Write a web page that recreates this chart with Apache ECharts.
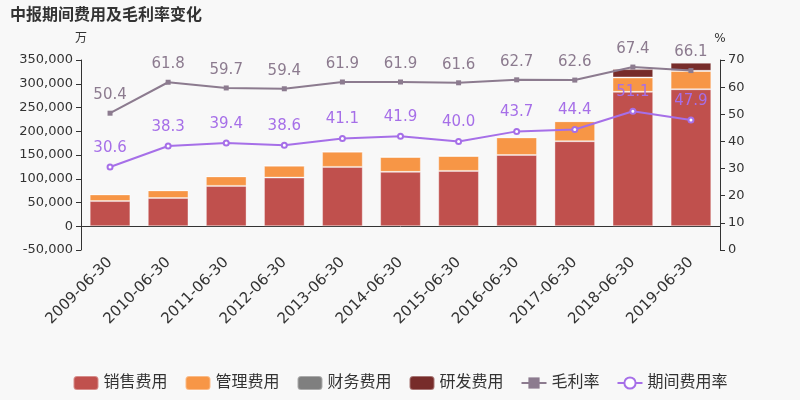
<!DOCTYPE html>
<html><head><meta charset="utf-8">
<script src="https://cdn.jsdelivr.net/npm/echarts@6/dist/echarts.min.js"></script>
<style>html,body{margin:0;padding:0;background:#f8f8f8}#c{width:800px;height:400px}</style>
</head><body><div id="c"></div>
<script>
const categories = ['2009-06-30','2010-06-30','2011-06-30','2012-06-30','2013-06-30','2014-06-30','2015-06-30','2016-06-30','2017-06-30','2018-06-30','2019-06-30'];
const sales = [53000, 59500, 85000, 102500, 125000, 114500, 116500, 150000, 179000, 283000, 288500];
const admin = [14000, 16000, 20000, 25000, 32000, 31500, 31500, 37000, 42000, 30000, 38500];
const finance = [300, 300, 300, 300, 300, 300, 300, 700, 500, 300, 300];
const rnd = [0, 0, 0, 0, 0, 0, 0, 0, 0, 17500, 17000];
const grossMargin = [50.4, 61.8, 59.7, 59.4, 61.9, 61.9, 61.6, 62.7, 62.6, 67.4, 66.1];
const expenseRate = [30.6, 38.3, 39.4, 38.6, 41.1, 41.9, 40.0, 43.7, 44.4, 51.1, 47.9];

const chart = echarts.init(document.getElementById('c'));
const barStyle = c => ({color: c, borderColor: 'rgba(255,255,255,0.35)', borderWidth: 1});
const fmt = p => Number(p.value).toFixed(1);
chart.setOption({
  backgroundColor: '#f8f8f8',
  textStyle: {fontFamily: '"DejaVu Sans", "Noto Sans CJK SC", sans-serif'},
  title: {text: '中报期间费用及毛利率变化', left: 5, top: 3,
    textStyle: {fontSize: 16, fontWeight: 'bold', color: '#333'}},
  legend: {bottom: 4, left: 'center', itemWidth: 25, itemHeight: 14, itemGap: 17,
    textStyle: {fontSize: 16, color: '#333'},
    data: ['销售费用','管理费用','财务费用','研发费用','毛利率','期间费用率']},
  grid: {left: 81, right: 80, top: 60, bottom: 150},
  xAxis: {type: 'category', data: categories,
    axisLine: {lineStyle: {color: '#333'}, onZero: true},
    axisTick: {alignWithLabel: false, lineStyle: {color: '#333'}},
    axisLabel: {rotate: 45, fontSize: 15, color: '#333', interval: 0, margin: 10}},
  yAxis: [
    {type: 'value', name: '万', min: -50000, max: 350000, interval: 50000,
      nameTextStyle: {color: '#333', fontSize: 12},
      axisLine: {show: true, lineStyle: {color: '#333'}}, axisTick: {show: true},
      axisLabel: {fontSize: 13, color: '#333'}, splitLine: {show: false}},
    {type: 'value', name: '%', min: 0, max: 70, interval: 10, position: 'right',
      nameTextStyle: {color: '#333', fontSize: 12},
      axisLine: {show: true, lineStyle: {color: '#333'}}, axisTick: {show: true},
      axisLabel: {fontSize: 13, color: '#333'}, splitLine: {show: false}}
  ],
  series: [
    {name: '销售费用', type: 'bar', stack: 'a', data: sales, barWidth: '70%', itemStyle: barStyle('#c0504d')},
    {name: '管理费用', type: 'bar', stack: 'a', data: admin, itemStyle: barStyle('#f79646')},
    {name: '财务费用', type: 'bar', stack: 'a', data: finance, itemStyle: barStyle('#7f7f7f')},
    {name: '研发费用', type: 'bar', stack: 'a', data: rnd, itemStyle: barStyle('#772c2a')},
    {name: '毛利率', type: 'line', yAxisIndex: 1, data: grossMargin, symbol: 'rect', symbolSize: 5,
      itemStyle: {color: '#8c7b8f'}, lineStyle: {width: 2, color: '#8c7b8f'},
      label: {show: true, position: 'top', fontSize: 15, color: '#8c7b8f', distance: 8, formatter: fmt}},
    {name: '期间费用率', type: 'line', yAxisIndex: 1, data: expenseRate, symbol: 'emptyCircle', symbolSize: 5,
      itemStyle: {color: '#a66fe8'}, lineStyle: {width: 2, color: '#a66fe8'},
      label: {show: true, position: 'top', fontSize: 15, color: '#a66fe8', distance: 8, formatter: fmt}}
  ]
});
</script></body></html>
